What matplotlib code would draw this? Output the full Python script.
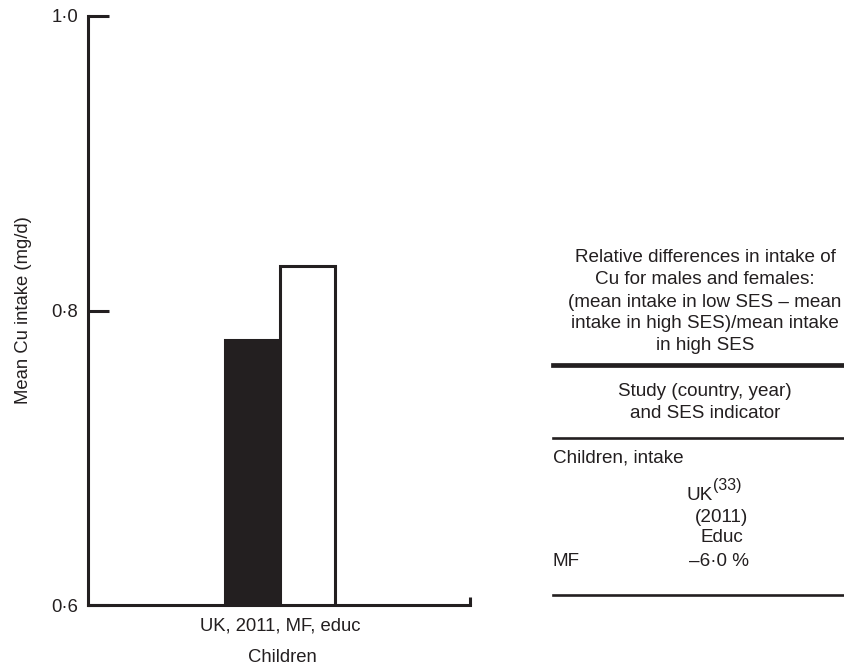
import numpy as np
import matplotlib
matplotlib.use("Agg")
import matplotlib.pyplot as plt
from matplotlib.lines import Line2D

plt.rcParams['font.family'] = ['Liberation Sans', 'DejaVu Sans']

# data
categories = ["UK, 2011, MF, educ"]
low_ses = [0.78]    # black bar
high_ses = [0.83]   # white bar
group_label = "Children"
y_ticks = [0.6, 0.8, 1.0]
y_ticklabels = ["0·6", "0·8", "1·0"]

table_title = ["Relative differences in intake of",
               "Cu for males and females:",
               "(mean intake in low SES – mean",
               "intake in high SES)/mean intake",
               "in high SES"]
table_head = ["Study (country, year)", "and SES indicator"]
table_group = "Children, intake"
study_name, study_ref = "UK", "(33)"
study = ["(2011)", "Educ"]
row_label = "MF"
row_value = "–6·0 %"

W, H = 844, 668
fs = 13.3
tfs = 13.6
tc = '#231f20'
fig = plt.figure(figsize=(W / 100, H / 100), dpi=100)
ax = fig.add_axes([88 / W, 1 - 605 / H, (470 - 88) / W, (605 - 16) / H])

x = np.arange(len(categories))
bw = 0.4
lw = 2.2
ax.bar(x - bw / 2, [v - 0.6 for v in low_ses], bw, bottom=0.6,
       color=tc, edgecolor=tc, linewidth=lw, zorder=3)
ax.bar(x + bw / 2, [v - 0.6 for v in high_ses], bw, bottom=0.6,
       color='white', edgecolor=tc, linewidth=lw, zorder=3)

ax.set_xlim(-1.4, 1.38)
ax.set_ylim(0.6, 1.0)
ax.set_yticks(y_ticks)
ax.set_yticklabels(y_ticklabels, fontsize=fs, color=tc)
ax.set_xticks(x)
ax.set_xticklabels(categories, fontsize=fs, color=tc)
ax.set_xticks([1.38], minor=True)
ax.tick_params(axis='x', which='major', length=0, pad=9)
ax.tick_params(axis='x', which='minor', direction='in', length=6, width=lw, color=tc)
ax.tick_params(axis='y', direction='in', length=15, width=lw, color=tc, pad=7)

for s in ['top', 'right']:
    ax.spines[s].set_visible(False)
for s in ['left', 'bottom']:
    ax.spines[s].set_linewidth(lw)
    ax.spines[s].set_color(tc)
    ax.spines[s].set_capstyle('projecting')

ax.set_ylabel("Mean Cu intake (mg/d)", fontsize=fs, color=tc)
ax.yaxis.set_label_coords(-0.146, 0.5)
fig.text(282 / W, 1 - 657 / H, group_label, ha='center', va='center', fontsize=fs, color=tc)

# table on the right
cx = 705 / W
for line, yy in zip(table_title, [257, 279, 302, 324, 346]):
    fig.text(cx, 1 - yy / H, line, ha='center', va='center', fontsize=tfs, color=tc)
for line, yy in zip(table_head, [392, 413]):
    fig.text(cx, 1 - yy / H, line, ha='center', va='center', fontsize=tfs, color=tc)
fig.text(553 / W, 1 - 458 / H, table_group, ha='left', va='center', fontsize=tfs, color=tc)
fig.text(713 / W, 1 - 500 / H, study_name, ha='right', va='baseline', fontsize=tfs, color=tc)
fig.text(713 / W, 1 - 490 / H, study_ref, ha='left', va='baseline', fontsize=tfs * 0.85, color=tc)
for line, yy in zip(study, [517, 538]):
    fig.text(722 / W, 1 - yy / H, line, ha='center', va='center', fontsize=tfs, color=tc)
fig.text(553 / W, 1 - 561 / H, row_label, ha='left', va='center', fontsize=tfs, color=tc)
fig.text(749 / W, 1 - 561 / H, row_value, ha='right', va='center', fontsize=tfs, color=tc)

for yy, w in [(365, 3.4), (438, 1.9), (595, 1.9)]:
    fig.add_artist(Line2D([553 / W, 1.0], [1 - yy / H, 1 - yy / H], color=tc, linewidth=w))

fig.savefig("out.png", dpi=100)
